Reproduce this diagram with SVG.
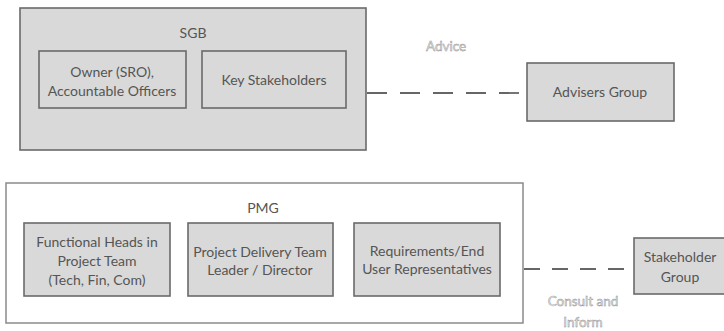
<svg xmlns="http://www.w3.org/2000/svg" width="724" height="331" viewBox="0 0 724 331">
<style>
.box{fill:#d9d9d9;stroke:#6a6a6a;stroke-width:1.6}
.outer{fill:#fff;stroke:#8a8a8a;stroke-width:1.5}
.t{font-family:Lato,"Open Sans",sans-serif;font-size:14px;fill:#555;text-anchor:middle}
.lbl{font-family:Lato,"Open Sans",sans-serif;font-size:13.5px;fill:#ececec;stroke:#8c8c8c;stroke-width:0.45;text-anchor:middle}
.dash{stroke:#666;stroke-width:1.8;fill:none}
</style>
<rect width="724" height="331" fill="#fff"/>
<g id="sgb">
<rect class="box" x="20" y="8" width="346" height="142"/>
<text class="t" x="193" y="38">SGB</text>
</g>
<g id="owner">
<rect class="box" x="39" y="51" width="147" height="57"/>
<text class="t" x="112" y="77">Owner (SRO),</text>
<text class="t" x="112" y="96">Accountable Officers</text>
</g>
<g id="key">
<rect class="box" x="202" y="51" width="144" height="57"/>
<text class="t" x="274" y="85">Key Stakeholders</text>
</g>
<g id="advisers">
<rect class="box" x="527" y="63" width="147" height="58"/>
<text class="t" x="600" y="97">Advisers Group</text>
</g>
<g id="pmg">
<rect class="outer" x="6" y="183" width="517" height="140"/>
<text class="t" x="263" y="213">PMG</text>
</g>
<g id="functional">
<rect class="box" x="24" y="223" width="146" height="73"/>
<text class="t" x="97" y="247">Functional Heads in</text>
<text class="t" x="97" y="266">Project Team</text>
<text class="t" x="97" y="285">(Tech, Fin,  Com)</text>
</g>
<g id="delivery">
<rect class="box" x="188" y="223" width="145" height="73"/>
<text class="t" x="260" y="257">Project Delivery Team</text>
<text class="t" x="260" y="275">Leader / Director</text>
</g>
<g id="requirements">
<rect class="box" x="354" y="223" width="146" height="73"/>
<text class="t" x="427" y="256">Requirements/End</text>
<text class="t" x="427" y="274">User Representatives</text>
</g>
<g id="stakeholder">
<rect class="box" x="634" y="238" width="95" height="56"/>
<text class="t" x="680" y="262">Stakeholder</text>
<text class="t" x="680" y="282">Group</text>
</g>
<g id="connectors">
<line class="dash" x1="367" y1="93" x2="526" y2="93" stroke-dasharray="20 13"/>
<text class="lbl" x="446" y="51">Advice</text>
<line class="dash" x1="524" y1="269" x2="633" y2="269" stroke-dasharray="16 12"/>
<text class="lbl" x="583" y="306">Consult and</text>
<text class="lbl" x="583" y="327">Inform</text>
</g>
</svg>
